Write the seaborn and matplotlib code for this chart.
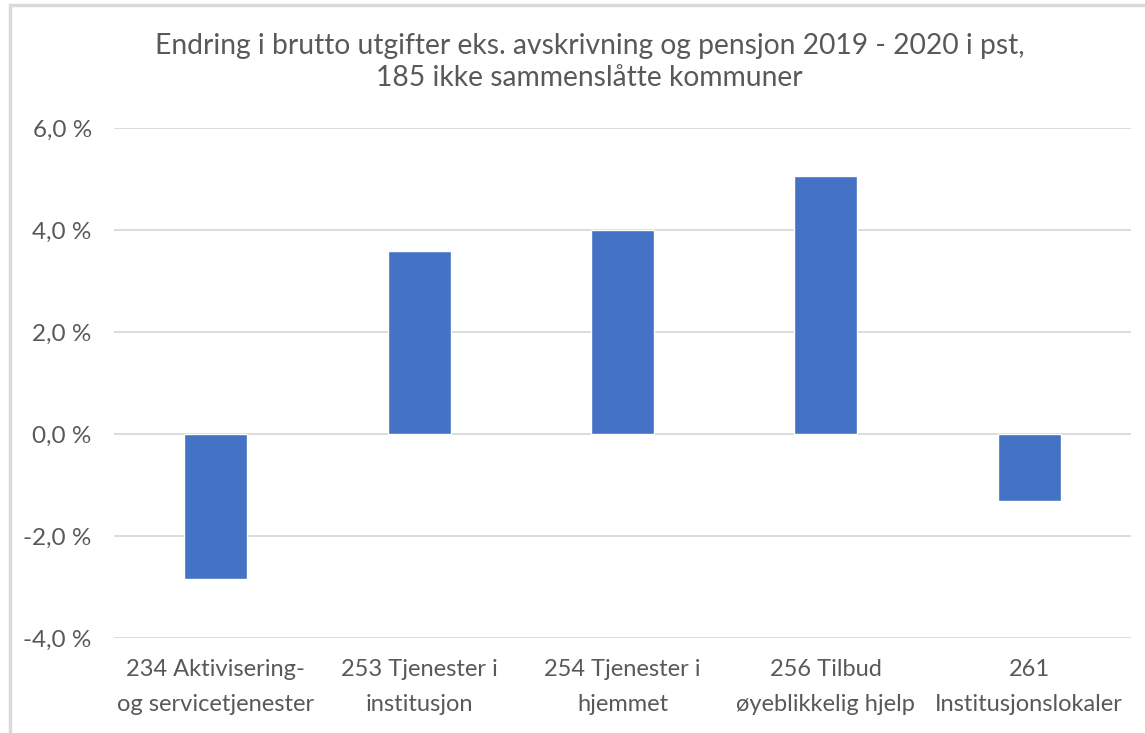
import matplotlib
matplotlib.use("Agg")
import matplotlib.pyplot as plt
import matplotlib.patches as mpatches
from matplotlib.ticker import FuncFormatter
import seaborn as sns
import pandas as pd

# data
categories = [
    "234 Aktivisering-\nog servicetjenester",
    "253 Tjenester i\ninstitusjon",
    "254 Tjenester i\nhjemmet",
    "256 Tilbud\nøyeblikkelig hjelp",
    "261\nInstitusjonslokaler",
]
change_pct = [-2.84, 3.59, 4.00, 5.05, -1.31]
y_ticks = [-4, -2, 0, 2, 4, 6]

df = pd.DataFrame({"kategori": categories, "endring": change_pct})

sns.set_style("white")
plt.rcParams["font.family"] = ["Lato", "DejaVu Sans"]

fig = plt.figure(figsize=(11.45, 7.33), dpi=100)
ax = fig.add_axes([114 / 1145, 1 - 638 / 733, 1017 / 1145, 510 / 733])

sns.barplot(data=df, x="kategori", y="endring", color="#4472C4", width=0.31,
            saturation=1, ax=ax, zorder=3)

ax.set_ylim(-4, 6)
ax.set_xlim(-0.5, len(categories) - 0.5)
ax.set_yticks(y_ticks)
ax.yaxis.set_major_formatter(FuncFormatter(lambda v, p: f"{v:.1f} %".replace(".", ",")))
ax.set_xticks(range(len(categories)))
ax.set_xticklabels(categories, linespacing=1.85)
ax.grid(axis="y", color="#d9d9d9", linewidth=1.3, zorder=0)
ax.grid(axis="x", visible=False)
for s in ax.spines.values():
    s.set_visible(False)
ax.set_xlabel("")
ax.set_ylabel("")
ax.tick_params(axis="both", length=0, colors="#595959")
ax.tick_params(axis="y", labelsize=17.5, pad=16)
ax.tick_params(axis="x", labelsize=17, pad=15)

fig.text(0.515, 1 - 62 / 733,
         "Endring i brutto utgifter eks. avskrivning og pensjon 2019 - 2020 i pst,\n185 ikke sammenslåtte kommuner",
         ha="center", va="center", fontsize=20.3, color="#595959", linespacing=1.32)

# chart frame
fig.patches.append(mpatches.Rectangle((10 / 1145, -0.1), 1.2, 1 - 5 / 733 + 0.1,
                                      transform=fig.transFigure, fill=False,
                                      edgecolor="#d9d9d9", linewidth=2.5))

fig.savefig("out.png", dpi=100)
